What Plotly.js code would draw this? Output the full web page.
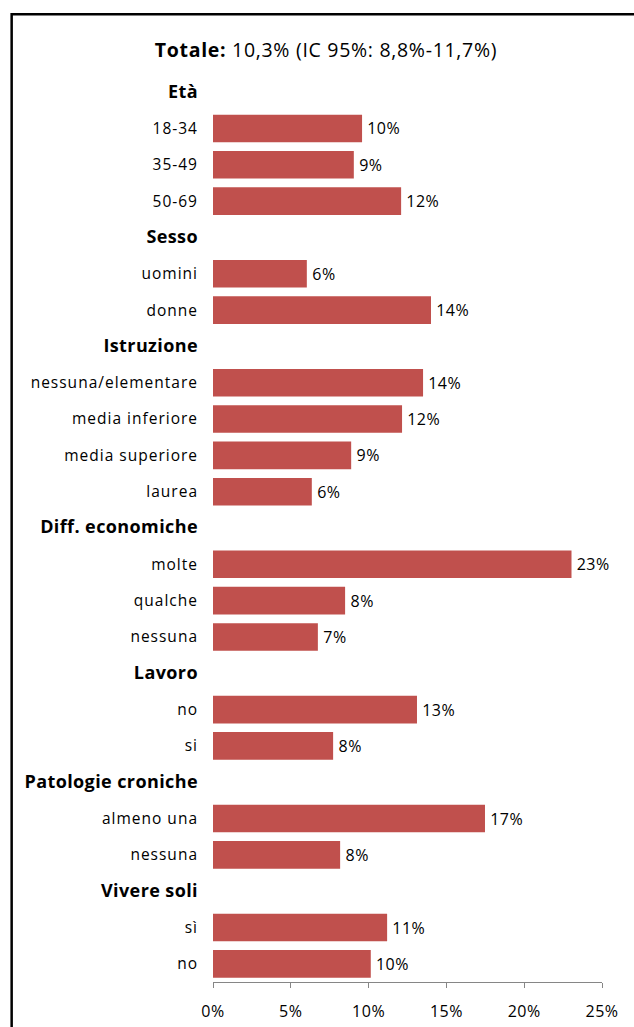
<!DOCTYPE html>
<html>
<head>
<meta charset="utf-8">
<script src="https://cdn.plot.ly/plotly-3.0.1.min.js"></script>
<style>
html,body{margin:0;padding:0;background:#fff;}
#chart{width:634px;height:1027px;}
#chart .ytick text{letter-spacing:1px;}
#chart .bartext{letter-spacing:0.5px;}
#chart .xtick text{letter-spacing:0.5px;}
#chart .gtitle{letter-spacing:0.7px;}
</style>
</head>
<body>
<div id="chart"></div>
<script>
// Row labels (group headers have no value)
const rowLabels = ["Età","18-34","35-49","50-69","Sesso","uomini","donne","Istruzione","nessuna/elementare","media inferiore","media superiore","laurea","Diff. economiche","molte","qualche","nessuna","Lavoro","no","si","Patologie croniche","almeno una","nessuna","Vivere soli","sì","no"];
const isHeader = [true,false,false,false,true,false,false,true,false,false,false,false,true,false,false,false,true,false,false,true,false,false,true,false,false];
// Percent values
const values = [null,9.58,9.05,12.09,null,6.03,14.01,null,13.5,12.15,8.88,6.35,null,23.04,8.49,6.74,null,13.11,7.72,null,17.48,8.17,null,11.19,10.14];
const xTickVals = [0,5,10,15,20,25];
const titleBold = "Totale:";
const titleRest = " 10,3% (IC 95%: 8,8%-11,7%)";

const FONT = "'Open Sans', Lato, sans-serif";
const idx = rowLabels.map((_, i) => i);
const tickText = rowLabels.map((l, i) => isHeader[i] ? '<b><span style="font-size:18px;letter-spacing:0.4px">' + l + '</span></b>' : l);

const trace = {
  type: "bar",
  orientation: "h",
  y: idx,
  x: values,
  marker: {color: "#C0504D"},
  width: 0.76,
  text: values.map(v => v === null ? "" : "\u2009" + Math.round(v) + "%"),
  textposition: "outside",
  cliponaxis: false,
  textfont: {family: FONT, size: 16, color: "#000"},
  hoverinfo: "skip"
};

const PL = 213, PR = 602.3, PT = 73.8, PB = 982.2;
const px2x = p => (p - PL) / (PR - PL);
const py2y = p => (PB - p) / (PB - PT);

const layout = {
  width: 634,
  height: 1027,
  margin: {l: PL, r: 634 - PR, t: PT, b: 1027 - PB, pad: 0},
  paper_bgcolor: "#fff",
  plot_bgcolor: "#fff",
  showlegend: false,
  font: {family: FONT, size: 15, color: "#000"},
  title: {
    text: "<b>" + titleBold + "</b>" + titleRest,
    font: {family: FONT, size: 19.5, color: "#000"},
    x: 326 / 634, xanchor: "center", xref: "container",
    y: 1 - 50 / 1027, yanchor: "middle", yref: "container"
  },
  xaxis: {
    range: [0, 25],
    tickvals: xTickVals,
    ticktext: xTickVals.map(v => v + "%"),
    showgrid: false,
    zeroline: false,
    showline: true,
    linecolor: "#868686",
    linewidth: 1,
    ticks: "outside",
    ticklen: 5,
    tickcolor: "#868686",
    ticklabelstandoff: 10,
    tickfont: {family: FONT, size: 16, color: "#000"},
    fixedrange: true
  },
  yaxis: {
    range: [24.5, -0.5],
    tickvals: idx,
    ticktext: tickText,
    showgrid: false,
    zeroline: false,
    showline: false,
    ticks: "",
    ticklabelstandoff: 14,
    tickfont: {family: FONT, size: 15.5, color: "#000"},
    fixedrange: true
  },
  shapes: [{
    type: "rect", xref: "paper", yref: "paper",
    x0: px2x(11.5), x1: px2x(660), y0: py2y(1060), y1: py2y(14),
    line: {color: "#000", width: 2.5}, fillcolor: "rgba(0,0,0,0)", layer: "below"
  }]
};

Plotly.newPlot("chart", [trace], layout, {displayModeBar: false, staticPlot: true});
</script>
</body>
</html>
